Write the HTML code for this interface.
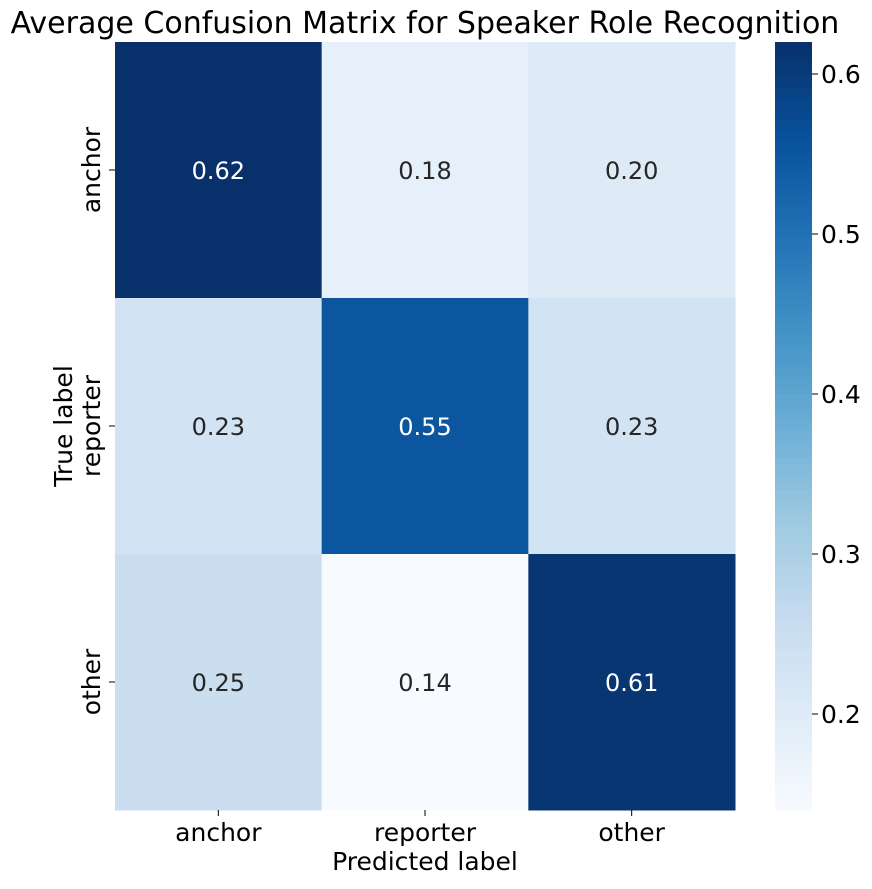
<!DOCTYPE html>
<html><head><meta charset="utf-8"><style>
body{margin:0;background:#fff;}
svg text{font-family:"DejaVu Sans","Liberation Sans",sans-serif;}
</style></head><body>
<svg id="chart" width="872" height="884" xmlns="http://www.w3.org/2000/svg">
<text x="425" y="33" font-size="30" text-anchor="middle" fill="#000">Average Confusion Matrix for Speaker Role Recognition</text>
<g id="cells"></g>
<g id="colorbar"></g>
<text x="425" y="870" font-size="25" text-anchor="middle">Predicted label</text>
<text transform="translate(72,426) rotate(-90)" font-size="25" text-anchor="middle">True label</text>
</svg>
<script>
const rowLabels = ["anchor","reporter","other"];
const colLabels = ["anchor","reporter","other"];
const matrix = [[0.62,0.18,0.20],[0.23,0.55,0.23],[0.25,0.14,0.61]];
const cbTicks = [0.2,0.3,0.4,0.5,0.6];
const vmin = 0.14, vmax = 0.62;

const NS="http://www.w3.org/2000/svg";
const L=115,T=42,W=620,H=768;
const cw=W/colLabels.length, ch=H/rowLabels.length;
const stops=["#f7fbff","#deebf7","#c6dbef","#9ecae1","#6baed6","#4292c6","#2171b5","#08519c","#08306b"];
function hex(h){return [1,3,5].map(i=>parseInt(h.substr(i,2),16));}
function color(v){let t=Math.max(0,Math.min(1,(v-vmin)/(vmax-vmin)))*(stops.length-1);
 let i=Math.min(Math.floor(t),stops.length-2),f=t-i;const a=hex(stops[i]),b=hex(stops[i+1]);
 return "rgb("+a.map((x,k)=>Math.round(x+(b[k]-x)*f)).join(",")+")";}
function mk(tag,attrs,parent){const e=document.createElementNS(NS,tag);for(const k in attrs)e.setAttribute(k,attrs[k]);parent.appendChild(e);return e;}
const cells=document.getElementById("cells");
matrix.forEach((row,r)=>row.forEach((v,c)=>{
 const rect=mk("rect",{x:L+c*cw,y:T+r*ch,width:cw+0.5,height:ch+0.5,fill:color(v)},cells);
 
 
 const t=mk("text",{x:L+(c+0.5)*cw,y:T+(r+0.5)*ch+9,"font-size":24,"text-anchor":"middle",fill:(v-vmin)/(vmax-vmin)>0.6?"#fff":"#262626"},cells);
 t.textContent=v.toFixed(2);
 
 
}));
colLabels.forEach((l,c)=>{
 const x=L+(c+0.5)*cw;
 mk("line",{x1:x,x2:x,y1:T+H,y2:T+H+6,stroke:"#000"},cells);
 const t=mk("text",{x:x,y:T+H+31,"font-size":25,"text-anchor":"middle"},cells);t.textContent=l;
 
 
});
rowLabels.forEach((l,r)=>{
 const y=T+(r+0.5)*ch;
 mk("line",{x1:L-6,x2:L,y1:y,y2:y,stroke:"#000"},cells);
 const t=mk("text",{transform:"translate("+(L-15)+","+y+") rotate(-90)","font-size":25,"text-anchor":"middle"},cells);t.textContent=l;
 
 
});
const cb=document.getElementById("colorbar");
const CX=775,CW=37;
const N=120;
for(let i=0;i<N;i++){
 const v=vmax-(vmax-vmin)*(i+0.5)/N;
 const r=mk("rect",{x:CX,y:T+i*H/N,width:CW,height:H/N+0.6,fill:color(v)},cb);
 
 
}
cbTicks.forEach(v=>{
 const y=T+(vmax-v)/(vmax-vmin)*H;
 mk("line",{x1:CX+CW,x2:CX+CW+6,y1:y,y2:y,stroke:"#000"},cb);
 const t=mk("text",{x:CX+CW+9,y:y+9,"font-size":25},cb);t.textContent=v.toFixed(1);
 
 
});
</script>
</body></html>
